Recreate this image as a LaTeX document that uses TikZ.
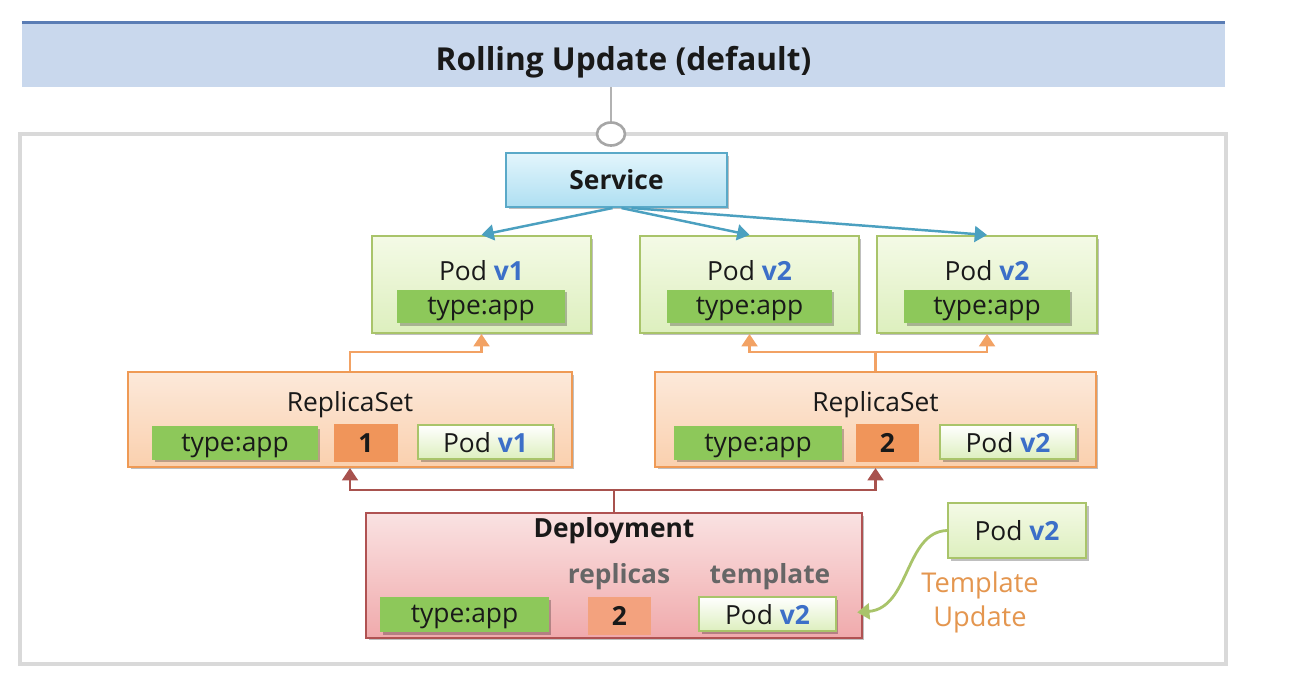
\documentclass[tikz,border=0pt]{standalone}
\usepackage{fontspec}
\setmainfont{Open Sans}
\usetikzlibrary{shadows,arrows.meta,shapes.geometric}
\definecolor{bannerfill}{HTML}{C9D8ED}
\definecolor{bannerline}{HTML}{5A7DB5}
\definecolor{frame}{HTML}{D9D9D9}
\definecolor{svcdraw}{HTML}{5AA9C8}
\definecolor{svctop}{HTML}{E3F5FC}
\definecolor{svcbot}{HTML}{AEDFF2}
\definecolor{svcarrow}{HTML}{4BA0C0}
\definecolor{poddraw}{HTML}{A9C46A}
\definecolor{podtop}{HTML}{F4FAE6}
\definecolor{podbot}{HTML}{DDEFBE}
\definecolor{labgreen}{HTML}{8DC85A}
\definecolor{rsdraw}{HTML}{EF9A55}
\definecolor{rstop}{HTML}{FCE9DA}
\definecolor{rsbot}{HTML}{FAD0AE}
\definecolor{rsarrow}{HTML}{F2A264}
\definecolor{numor}{HTML}{F0955A}
\definecolor{numsal}{HTML}{F3A27E}
\definecolor{depdraw}{HTML}{B05252}
\definecolor{deptop}{HTML}{FAE2E2}
\definecolor{depbot}{HTML}{F0AAAC}
\definecolor{deparrow}{HTML}{A8524E}
\definecolor{vblue}{HTML}{3C6FC8}
\definecolor{tmplor}{HTML}{E4964F}
\definecolor{graytxt}{HTML}{666666}
\begin{document}
\begin{tikzpicture}[x=0.02cm,y=-0.02cm,
  every node/.style={font=\fontsize{15}{18}\selectfont, text=black!90, inner sep=0pt},
  bold/.style={font=\fontsize{15}{18}\selectfont\bfseries},
  shad/.style={drop shadow={shadow xshift=0.05cm, shadow yshift=-0.05cm, opacity=0.25, fill=black}},
  svcbox/.style={shad, draw=svcdraw, line width=1.2pt, top color=svctop, bottom color=svcbot, minimum width=4.42cm, minimum height=1.08cm},
  podbox/.style={shad, draw=poddraw, line width=1.2pt, top color=podtop, bottom color=podbot, minimum height=1.94cm},
  minipod/.style={shad, draw=poddraw, line width=1.4pt, top color=white, bottom color=podbot, minimum height=0.68cm, text depth=0pt},
  lab/.style={shad, fill=labgreen, minimum height=0.67cm, text depth=0.6pt},
  rsbox/.style={shad, draw=rsdraw, line width=1.2pt, top color=rstop, bottom color=rsbot, minimum height=1.9cm},
  depbox/.style={shad, draw=depdraw, line width=1.2pt, top color=deptop, bottom color=depbot, minimum width=9.92cm, minimum height=2.5cm},
  numbox/.style={bold, minimum width=1.27cm, minimum height=0.76cm},
  sarrow/.style={draw=svcarrow, line width=1.4pt, -{Triangle[length=7pt,width=9pt]}},
  rarrow/.style={draw=rsarrow, line width=1.4pt, -{Triangle[length=7pt,width=9pt]}},
  darrow/.style={draw=deparrow, line width=1.4pt, -{Triangle[length=7pt,width=9pt]}},
  garrow/.style={draw=poddraw, line width=1.6pt, -{Triangle[length=7pt,width=9pt]}},
  ]
\useasboundingbox (0,0) rectangle (1294,690);
\fill[white] (0,0) rectangle (1294,690);
% banner
\node[fill=bannerfill, minimum width=24.06cm, minimum height=1.28cm] (banner) at (623.5,55) {};
\draw[bannerline, line width=1.8pt] (banner.north west) -- (banner.north east);
\node[font=\fontsize{18}{21}\selectfont\bfseries] (title) at (623.5,62) {Rolling Update (default)};
% container
\draw[frame, line width=2.4pt] (20,134) rectangle (1226,664);
\node[draw=black!35, fill=white, line width=1.5pt, ellipse, minimum width=0.56cm, minimum height=0.46cm] (knob) at (611,134) {};
\draw[black!30, line width=0.8pt] (banner.south -| knob) -- (knob.north);
% service
\node[svcbox] (svc) at (616.5,180) {};
\node[bold] (svct) at (616.5,180) {Service};
% pods
\node[podbox, minimum width=4.38cm] (p1) at (481.5,284.5) {};
\node (p1t) at (481.5,271) {Pod \textcolor{vblue}{\bfseries v1}};
\node[lab, minimum width=3.36cm] (p1l) at (481,306.5) {type:app};
\node[podbox, minimum width=4.38cm] (p2) at (749.5,284.5) {};
\node (p2t) at (749.5,271) {Pod \textcolor{vblue}{\bfseries v2}};
\node[lab, minimum width=3.3cm] (p2l) at (749.5,306.5) {type:app};
\node[podbox, minimum width=4.4cm] (p3) at (987,284.5) {};
\node (p3t) at (987,271) {Pod \textcolor{vblue}{\bfseries v2}};
\node[lab, minimum width=3.32cm] (p3l) at (987,306.5) {type:app};
% service arrows
\draw[sarrow] ([xshift=-0.08cm]svc.south) -- (p1.north);
\draw[sarrow] ([xshift=0.1cm]svc.south) -- (p2.north);
\draw[sarrow] ([xshift=0.3cm]svc.south) -- (p3.north);
% replicasets
\node[rsbox, minimum width=8.88cm] (rs1) at (350,419.5) {};
\node (rs1t) at (350,405) {ReplicaSet};
\node[lab, minimum width=3.32cm] (rs1l) at (235,443) {type:app};
\node[numbox, fill=numor] (rs1n) at (366,443) {1};
\node[minipod, minimum width=2.7cm] (rs1p) at (485.5,442) {Pod \textcolor{vblue}{\bfseries v1}};
\node[rsbox, minimum width=8.82cm] (rs2) at (875.5,419.5) {};
\node (rs2t) at (875.5,405) {ReplicaSet};
\node[lab, minimum width=3.36cm] (rs2l) at (758,443) {type:app};
\node[numbox, fill=numor] (rs2n) at (887.5,443) {2};
\node[minipod, minimum width=2.72cm] (rs2p) at (1008,442) {Pod \textcolor{vblue}{\bfseries v2}};
% rs -> pod arrows
\coordinate (j1) at (350,352);
\coordinate (j2) at (875.5,352);
\draw[rarrow] (rs1.north) -- (j1) -| (p1.south);
\draw[rsarrow, line width=1.4pt] (rs2.north) -- (j2);
\draw[rarrow] (j2) -| (p2.south);
\draw[rarrow] (j2) -| (p3.south);
% deployment
\node[depbox] (dep) at (614,575.5) {};
\node[bold] (dept) at (614,531) {Deployment};
\node[bold, text=graytxt] (reptxt) at (619,577) {replicas};
\node[bold, text=graytxt] (tmptxt) at (770,577) {template};
\node[lab, minimum width=3.38cm, minimum height=0.7cm] (depl) at (464.5,614.5) {type:app};
\node[numbox, fill=numsal] (depn) at (619.5,616) {2};
\node[minipod, minimum width=2.74cm] (depp) at (767.5,614) {Pod \textcolor{vblue}{\bfseries v2}};
\coordinate (j3) at (614,490);
\draw[deparrow, line width=1.4pt] (dep.north) -- (j3);
\draw[darrow] (j3) -| (rs1.south);
\draw[darrow] (j3) -| (rs2.south);
% template update
\node[podbox, minimum width=2.76cm, minimum height=1.1cm] (podx) at (1017,530.5) {};
\node (podxt) at (1017,530.5) {Pod \textcolor{vblue}{\bfseries v2}};
\draw[garrow, shorten >=0.4cm] (podx.west) .. controls (905,532) and (910,608) .. (depp.east);
\node[text=tmplor, align=center, font=\fontsize{15.5}{19.3}\selectfont] (tu) at (980,602) {Template\\Update};
\end{tikzpicture}
\end{document}
